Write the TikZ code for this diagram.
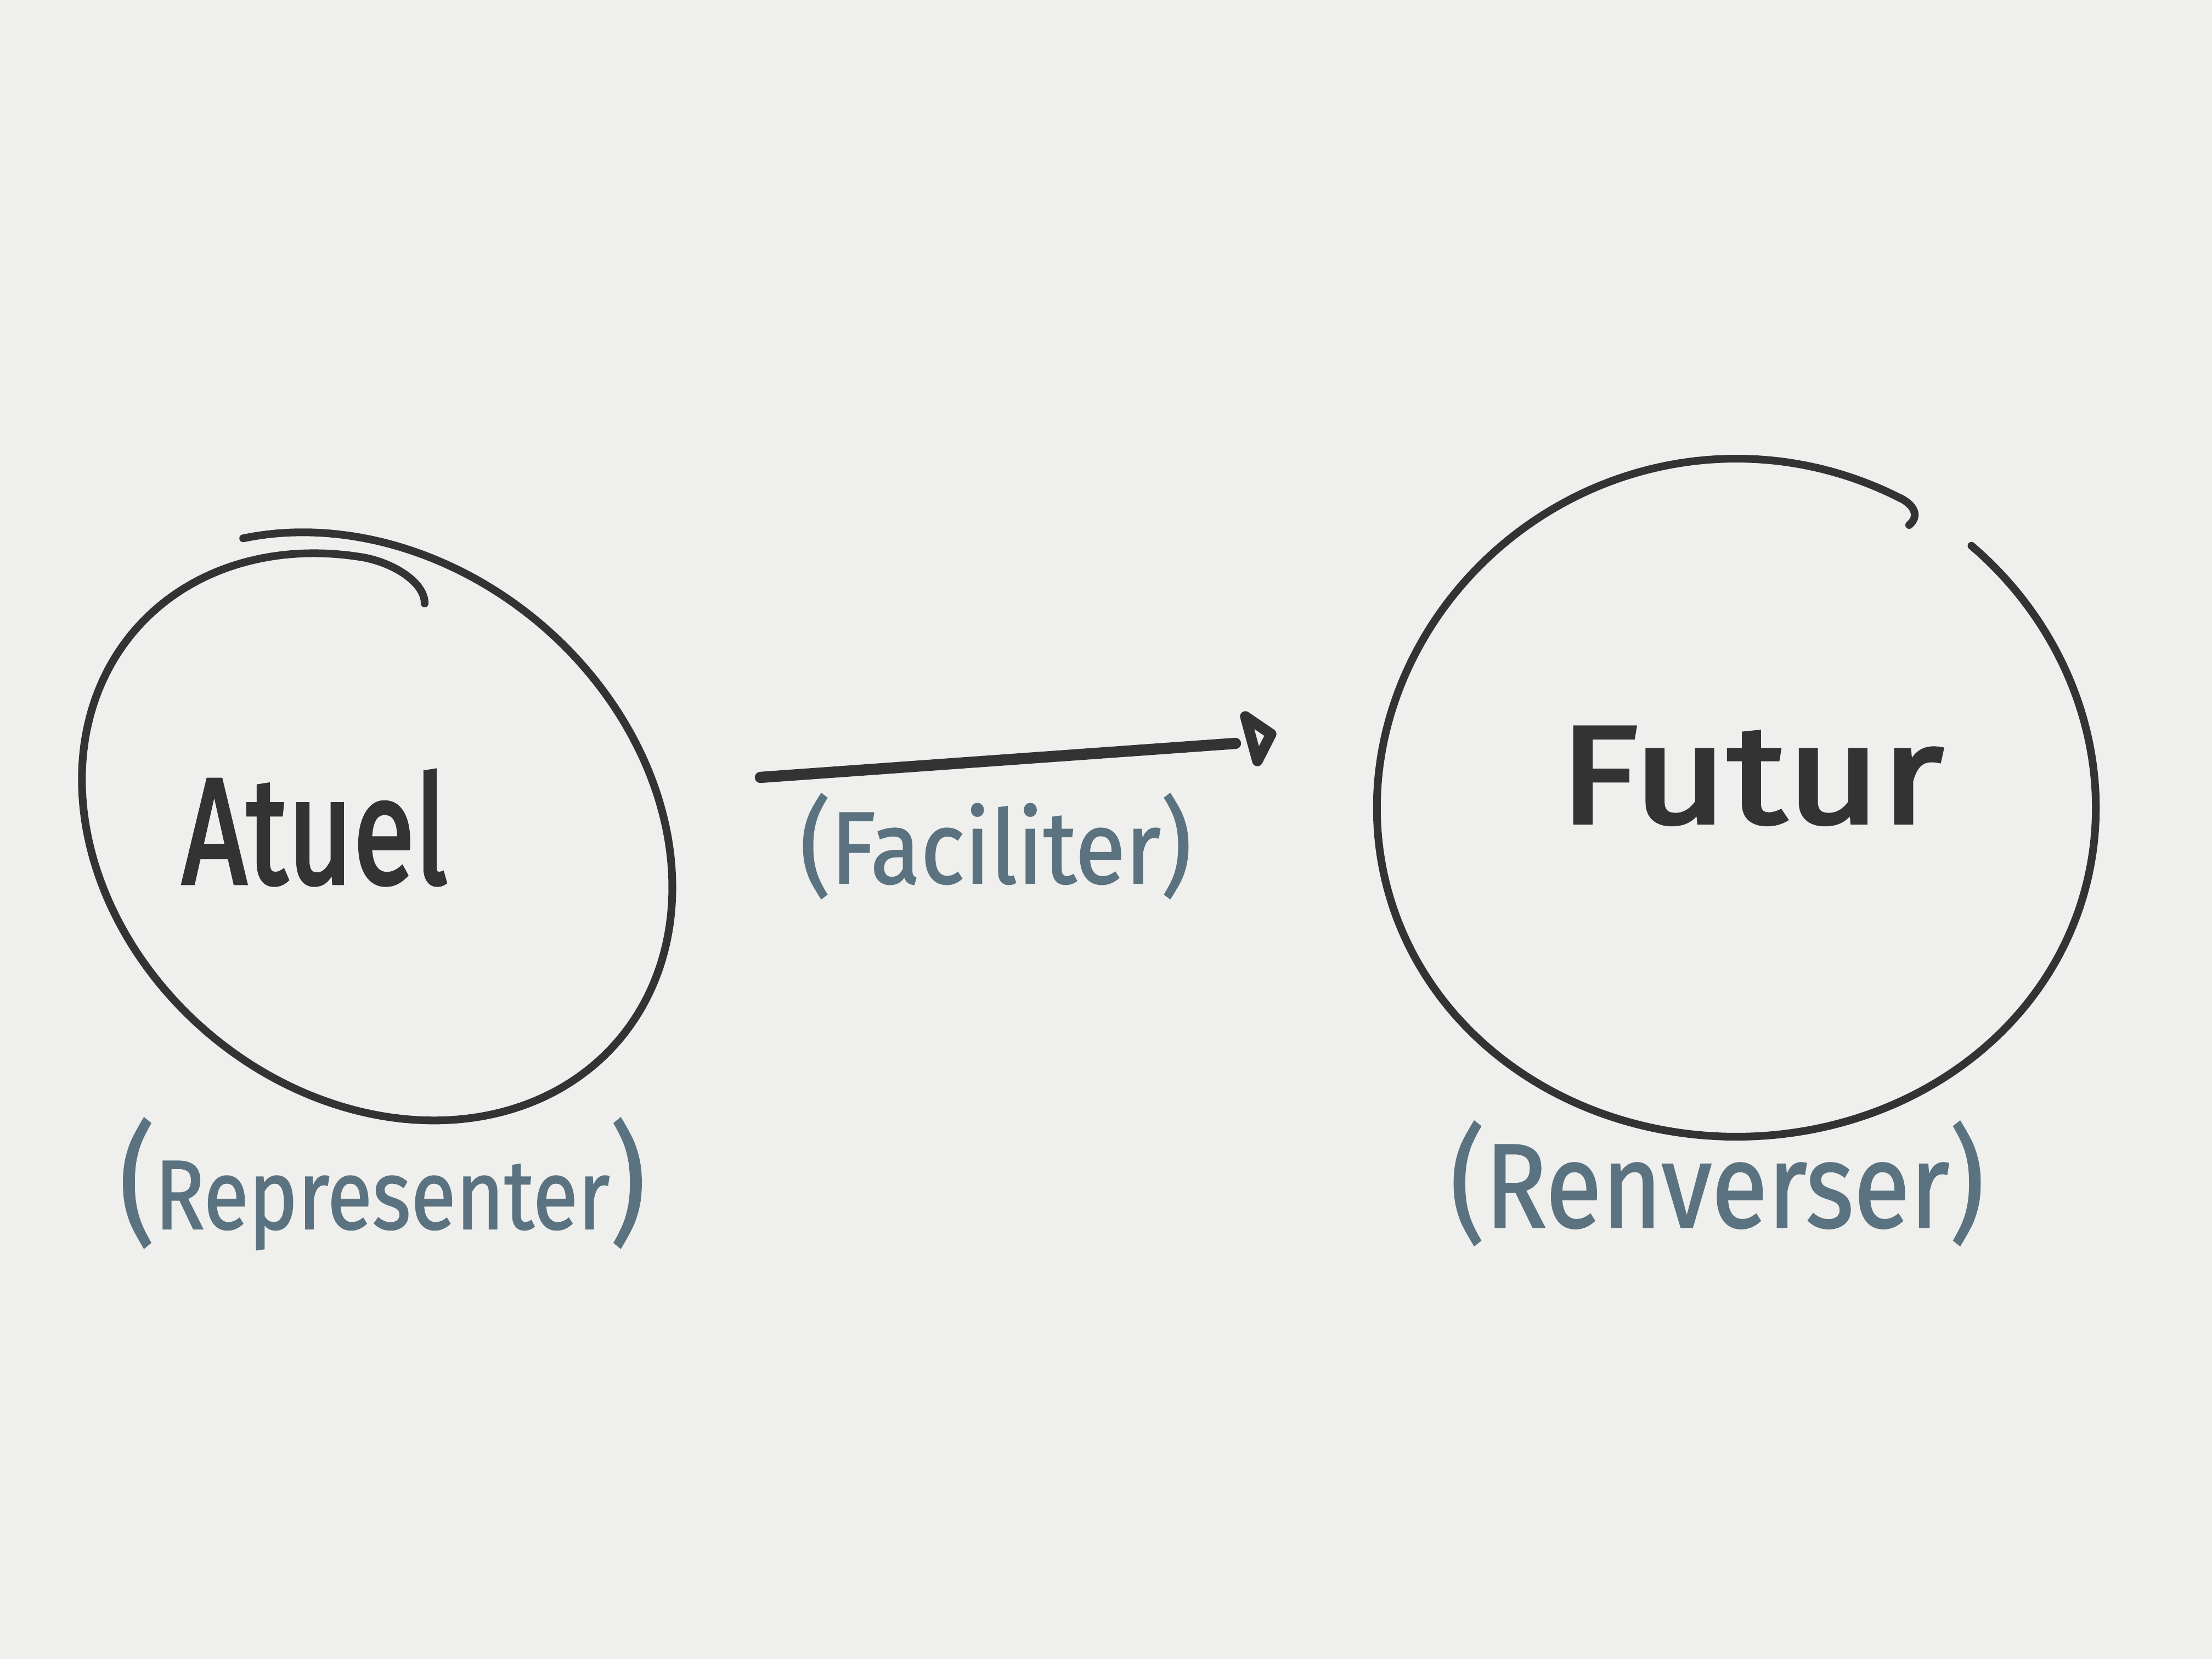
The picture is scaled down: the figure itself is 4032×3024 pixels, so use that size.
\documentclass[tikz,border=0pt]{standalone}
\usepackage{fontspec}
\setmainfont{Fira Sans}
\newfontfamily\titlefont{Fira Sans}[FakeBold=2.5]
\newfontfamily\labelfont{Fira Sans}[FakeBold=1.2]
\definecolor{paper}{HTML}{EFEFED}
\definecolor{ink}{HTML}{333333}
\definecolor{blueink}{HTML}{5B7380}
\newcommand{\pfont}[1]{\fontsize{#1}{#1}\selectfont}
\begin{document}
\begin{tikzpicture}[x=0.01cm,y=-0.01cm,
  circ/.style={draw=ink, line width=4pt, line cap=round, line join=round},
  conn/.style={draw=ink, line width=5.8pt, line cap=round},
  headstyle/.style={draw=ink, line width=5.5pt, line join=round, line cap=round},
  title/.style={text=ink, inner sep=0pt, anchor=base},
  lbl/.style={text=blueink, inner sep=0pt, anchor=base}]
\fill[paper] (0,0) rectangle (4032,3024);
\useasboundingbox (0,0) rectangle (4032,3024);
% left circle (Atuel): slightly spiralling tilted ellipse, ends overlapping at the top
\draw[circ] (774,1100) .. controls (775,1062) and (716,1024) .. (656,1015);
\draw[circ] plot[domain=232:-150, samples=170, smooth]
  ({680 + (0.96+0.05*((232-\x)/382)+0.03*((232-\x)/382)^6)*(445.5*cos(\x) - 316.2*sin(\x))},
   {1519 + (0.96+0.05*((232-\x)/382)+0.03*((232-\x)/382)^6)*(387.0*cos(\x) + 363.9*sin(\x))});
% right circle (Futur): open at the top right, with a hook
\draw[circ] (3480,957) .. controls (3500,940) and (3488,920) .. (3464,908);
\draw[circ] plot[domain=-62:-408, samples=170, smooth]
  ({3165 + 655*cos(\x)*(1+0.03*sin(\x))}, {1454 + 618*sin(\x)});
% connector
\coordinate (arrowstart) at (1386,1417);
\coordinate (arrowend) at (2252,1355);
\draw[conn] (arrowstart) -- (arrowend);
\draw[headstyle] (2270,1306) -- (2317,1338) -- (2292,1387) -- cycle;
% texts
\node[title, xscale=0.75, font={\titlefont\pfont{78pt}}] (atuel) at (574,1610) {Atuel};
\node[title, xscale=1.17, font={\titlefont\pfont{72pt}}] (futur) at (3192,1500) {Futur};
\node[lbl, xscale=0.84, font={\labelfont\pfont{51pt}}] (representer) at (697,2240)
  {{\pfont{68pt}(}Representer{\pfont{68pt})}};
\node[lbl, xscale=0.9, font={\labelfont\pfont{53pt}}] (faciliter) at (1815,1610)
  {{\pfont{55pt}(}Faciliter{\pfont{55pt})}};
\node[lbl, xscale=0.86, font={\labelfont\pfont{62pt}}] (renverser) at (3130,2237)
  {{\pfont{65pt}(}Renverser{\pfont{65pt})}};
\end{tikzpicture}
\end{document}
